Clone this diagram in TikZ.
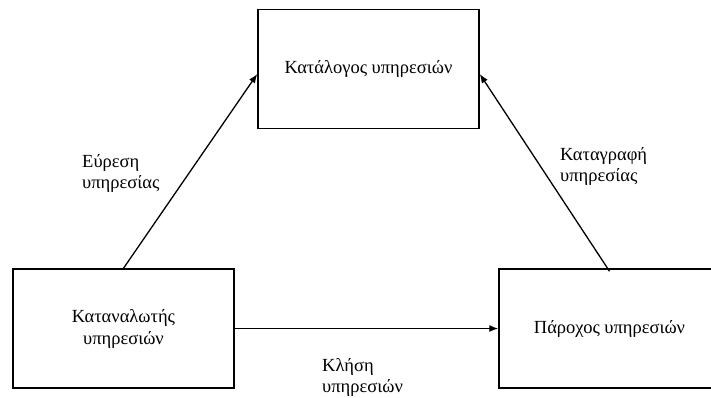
\documentclass[tikz,border=0pt]{standalone}
\usepackage{fontspec}
\setmainfont{Liberation Serif}
\usetikzlibrary{arrows.meta}
\begin{document}
\begin{tikzpicture}[x=1pt,y=-1pt,
  box/.style={draw,line width=1.5pt,minimum width=221pt,minimum height=119pt,inner sep=0pt,
    font=\fontsize{18.5}{22}\selectfont,align=center},
  conn/.style={line width=1.3pt,-{Latex[length=9pt,width=7pt]}},
  lbl/.style={font=\fontsize{18.5}{21}\selectfont,align=left,anchor=base west,inner sep=0pt}]
\useasboundingbox (0,0) rectangle (711,397);
\node[box] (t) at (368.5,69) {Κατάλογος υπηρεσιών};
\node[box] (l) at (123.5,328.5) {Καταναλωτής\\υπηρεσιών};
\node[box] (r) at (609.5,328.5) {Πάροχος υπηρεσιών};
\draw[conn] (l.north) -- ([yshift=-5pt]t.west);
\draw[conn] ([yshift=-3pt]r.north) -- ([yshift=-5pt]t.east);
\draw[conn] (l.east) -- (r.west);
\node[lbl] (a) at (82,188) {Εύρεση\\υπηρεσίας};
\node[lbl] (b) at (560,181) {Καταγραφή\\υπηρεσίας};
\node[lbl] (c) at (322,392) {Κλήση\\υπηρεσιών};
\end{tikzpicture}
\end{document}
